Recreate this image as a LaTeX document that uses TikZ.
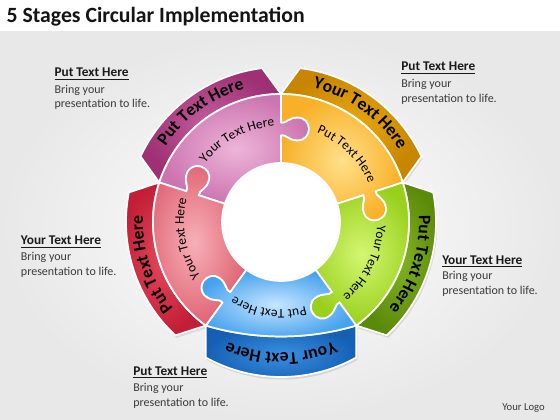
\documentclass[tikz,border=0pt]{standalone}
\usepackage{fontspec}
\setmainfont{Carlito}
\usetikzlibrary{decorations.text}
\definecolor{pinkL}{HTML}{EDB5D9}
\definecolor{pinkD}{HTML}{CC74B0}
\definecolor{pinkBL}{HTML}{C45E9F}
\definecolor{pinkBD}{HTML}{9E3074}
\definecolor{yelL}{HTML}{FFE08A}
\definecolor{yelD}{HTML}{F8B028}
\definecolor{yelBL}{HTML}{E8A810}
\definecolor{yelBD}{HTML}{C78500}
\definecolor{grnL}{HTML}{D4F672}
\definecolor{grnD}{HTML}{98D01C}
\definecolor{grnBL}{HTML}{82B222}
\definecolor{grnBD}{HTML}{5A8A0A}
\definecolor{bluL}{HTML}{C6E6FF}
\definecolor{bluD}{HTML}{46A2EE}
\definecolor{bluBL}{HTML}{3A90E0}
\definecolor{bluBD}{HTML}{1560B5}
\definecolor{redL}{HTML}{F7B0B8}
\definecolor{redD}{HTML}{E06474}
\definecolor{redBL}{HTML}{E4485A}
\definecolor{redBD}{HTML}{C21E36}
\definecolor{bodytxt}{HTML}{3A3A3A}
\newcommand\bnfont{\fontsize{13.2}{15}\selectfont\bfseries}
\newcommand\rgfont{\fontsize{10}{12}\selectfont}
% puzzle piece: #1 = clockwise end angle (knob), #2 = other end (socket), #3 = outer edge
\newcommand\pzpath[3]{([rotate=#1]59,0) -- ([rotate=#1]86.5,0)
 .. controls ([rotate=#1]88,-5) and ([rotate=#1]81.5,-7) .. ([rotate=#1]81.5,-16.5)
 .. controls ([rotate=#1]81.5,-31.8) and ([rotate=#1]104.5,-31.8) .. ([rotate=#1]104.5,-16.5)
 .. controls ([rotate=#1]104.5,-7) and ([rotate=#1]98,-5) .. ([rotate=#1]99.5,0)
 -- ([rotate=#1]128,0) #3 -- ([rotate=#2]99.5,0)
 .. controls ([rotate=#2]98,-5) and ([rotate=#2]104.5,-7) .. ([rotate=#2]104.5,-16.5)
 .. controls ([rotate=#2]104.5,-31.8) and ([rotate=#2]81.5,-31.8) .. ([rotate=#2]81.5,-16.5)
 .. controls ([rotate=#2]81.5,-7) and ([rotate=#2]88,-5) .. ([rotate=#2]86.5,0)
 -- ([rotate=#2]59,0) arc[start angle=#2, end angle=#1, radius=59] -- cycle}
\newcommand\bnpath[3]{(#1:128) -- ({#1+7}:155) arc[start angle={#1+7}, end angle={#2-7}, radius=155] -- (#2:128) #3 -- cycle}
\newcommand\arctext[5]{\path[decorate, decoration={text along path, text align=center, text={|#5|#4}}] ({#1+#3}:#2) arc[start angle={#1+#3}, end angle={#1-#3}, radius=#2];}
\tikzset{
  brd/.style={draw=white, line width=1.3pt, line join=round},
  shd/.style={fill=black, opacity=0.10, shift={(1.2,-2.5)}},
  ttl/.style={anchor=base west, inner sep=0pt, font=\fontsize{16.3}{19}\selectfont\bfseries, text=black!92},
  hd/.style={anchor=base west, inner sep=0pt, font=\fontsize{10}{12}\selectfont\bfseries, text=black!90},
  bd/.style={anchor=base west, inner sep=0pt, font=\fontsize{9}{11}\selectfont, text=bodytxt},
  lg/.style={anchor=base west, inner sep=0pt, font=\fontsize{8}{10}\selectfont, text=bodytxt}
}
\begin{document}
\begin{tikzpicture}[x=0.75pt,y=0.75pt]
\useasboundingbox (0,0) rectangle (560,420);
\fill[white] (0,0) rectangle (560,420);
\shade[inner color=white, outer color=black!9] (0,0) rectangle (560,388);
\node[ttl] (title) at (6.4,397) {5 Stages Circular Implementation};

\begin{scope}[shift={(281,198)}]
  % shadows
  \fill[shd] \bnpath{90}{162}{arc[start angle=162, end angle=90, radius=128]};
  \fill[shd] \bnpath{18}{90}{arc[start angle=90, end angle=18, radius=128]};
  \fill[shd] \bnpath{-54}{18}{arc[start angle=18, end angle=-54, radius=128]};
  \fill[shd] \bnpath{162}{234}{arc[start angle=234, end angle=162, radius=128]};
  \fill[shd] \bnpath{-126}{-54}{arc[start angle=-73.5, end angle=-106.5, radius=265]};
  % banners
  \shadedraw[brd, inner color=pinkBL, outer color=pinkBD] \bnpath{90}{162}{arc[start angle=162, end angle=90, radius=128]};
  \shadedraw[brd, inner color=yelBL, outer color=yelBD] \bnpath{18}{90}{arc[start angle=90, end angle=18, radius=128]};
  \shadedraw[brd, inner color=grnBL, outer color=grnBD] \bnpath{-54}{18}{arc[start angle=18, end angle=-54, radius=128]};
  \shadedraw[brd, inner color=redBL, outer color=redBD] \bnpath{162}{234}{arc[start angle=234, end angle=162, radius=128]};
  \shadedraw[brd, inner color=bluBL, outer color=bluBD] \bnpath{-126}{-54}{arc[start angle=-73.5, end angle=-106.5, radius=265]};
  % puzzle pieces
  \shadedraw[brd, inner color=pinkL, outer color=pinkD] \pzpath{90}{162}{arc[start angle=90, end angle=162, radius=128]};
  \shadedraw[brd, inner color=yelL, outer color=yelD] \pzpath{18}{90}{arc[start angle=18, end angle=90, radius=128]};
  \shadedraw[brd, inner color=grnL, outer color=grnD] \pzpath{-54}{18}{arc[start angle=-54, end angle=18, radius=128]};
  \shadedraw[brd, inner color=bluL, outer color=bluD] \pzpath{-126}{-54}{arc[start angle=-106.5, end angle=-73.5, radius=265]};
  \shadedraw[brd, inner color=redL, outer color=redD] \pzpath{162}{234}{arc[start angle=162, end angle=234, radius=128]};
  \fill[white] (0,0) circle[radius=57.5];
  % banner texts
  \arctext{126}{138}{32}{Put Text Here}{\bnfont}
  \arctext{54}{138}{32}{Your Text Here}{\bnfont}
  \arctext{-18}{138}{32}{Put Text Here}{\bnfont}
  \arctext{-90}{131}{32}{Your Text Here}{\bnfont}
  \arctext{198}{138}{32}{Put Text Here}{\bnfont}
  % ring texts
  \arctext{118}{96}{36}{Your Text Here}{\rgfont}
  \arctext{46}{96}{36}{Put Text Here}{\rgfont}
  \arctext{-26}{96}{36}{Your Text Here}{\rgfont}
  \arctext{-98}{88}{38}{Put Text Here}{\rgfont}
  \arctext{190}{97}{36}{Your Text Here}{\rgfont}
\end{scope}

% side texts
\node[hd] (h1) at (54.3,343) {\underline{Put Text Here}};
\node[bd] (b1a) at (54.3,326.7) {Bring your};
\node[bd] (b1b) at (54.3,312) {presentation to life.};
\node[hd] (h2) at (401,349) {\underline{Put Text Here}};
\node[bd] (b2a) at (401,332.7) {Bring your};
\node[bd] (b2b) at (401,317.7) {presentation to life.};
\node[hd] (h3) at (20.7,175) {\underline{Your Text Here}};
\node[bd] (b3a) at (20.7,159.3) {Bring your};
\node[bd] (b3b) at (20.7,144.3) {presentation to life.};
\node[hd] (h4) at (442,155.7) {\underline{Your Text Here}};
\node[bd] (b4a) at (442,140) {Bring your};
\node[bd] (b4b) at (442,125) {presentation to life.};
\node[hd] (h5) at (133,44.7) {\underline{Put Text Here}};
\node[bd] (b5a) at (133,28.3) {Bring your};
\node[bd] (b5b) at (133,13.3) {presentation to life.};
\node[lg] (logo) at (502,9.5) {Your Logo};
\end{tikzpicture}
\end{document}
